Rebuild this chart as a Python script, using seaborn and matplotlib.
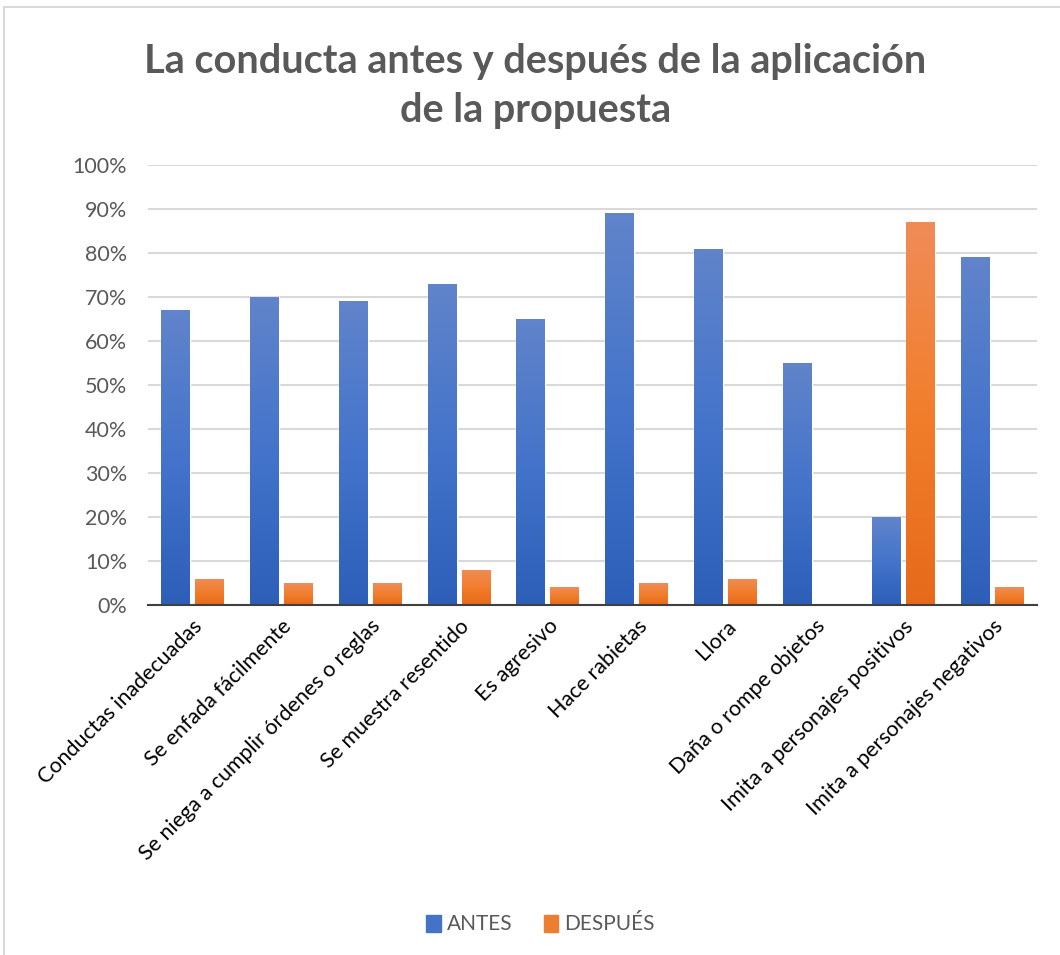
import numpy as np
import pandas as pd
import matplotlib
matplotlib.use("Agg")
import matplotlib.pyplot as plt
import seaborn as sns
from matplotlib.colors import LinearSegmentedColormap
from matplotlib.patches import Rectangle
from matplotlib.ticker import PercentFormatter


categories = [
    "Conductas inadecuadas", "Se enfada fácilmente",
    "Se niega a cumplir órdenes o reglas", "Se muestra resentido",
    "Es agresivo", "Hace rabietas", "Llora", "Daña o rompe objetos",
    "Imita a personajes positivos", "Imita a personajes negativos",
]
antes = [67, 70, 69, 73, 65, 89, 81, 55, 20, 79]
despues = [6, 5, 5, 8, 4, 5, 6, 0, 87, 4]
series = ["ANTES", "DESPUÉS"]

df = pd.DataFrame({
    "categoria": categories * 2,
    "valor": antes + despues,
    "serie": [series[0]] * len(categories) + [series[1]] * len(categories),
})

sns.set_style("white")
plt.rcParams['font.family'] = ['Lato', 'DejaVu Sans']

fig = plt.figure(figsize=(10.6, 9.55), dpi=100)
ax = fig.add_axes([0.1396, 0.3665, 0.8384, 0.4607])

colors = {"ANTES": "#4472C4", "DESPUÉS": "#ED7D31"}
sns.barplot(data=df, x="categoria", y="valor", hue="serie", order=categories,
            hue_order=series, palette=colors, width=0.764, gap=0.147,
            ax=ax, legend=False, zorder=3)

# gradient fill on the bars
grads = {
    "ANTES": LinearSegmentedColormap.from_list("b", ["#2D5FB9", "#4474CB", "#6184CA"]),
    "DESPUÉS": LinearSegmentedColormap.from_list("o", ["#E66A1A", "#F17E2C", "#F08C58"]),
}
grad = np.linspace(0, 1, 256).reshape(-1, 1)
for cont, s in zip(ax.containers, series):
    for bar in cont:
        h = bar.get_height()
        if h <= 0:
            continue
        x0 = bar.get_x()
        w = bar.get_width()
        im = ax.imshow(grad, cmap=grads[s], origin="lower", aspect="auto",
                       extent=(x0, x0 + w, 0, h), zorder=3.5)
        im.set_clip_path(bar)

ax.set_xlim(-0.5, len(categories) - 0.5)
ax.set_ylim(0, 100)
ax.set_yticks(range(0, 101, 10))
ax.yaxis.set_major_formatter(PercentFormatter(decimals=0))
ax.grid(axis="y", color="#D9D9D9", linewidth=1.5, zorder=0)
ax.set_axisbelow(True)
for side in ["left", "right", "top"]:
    ax.spines[side].set_visible(False)
ax.spines["bottom"].set_color("#404040")
ax.spines["bottom"].set_linewidth(1.5)
ax.spines["bottom"].set_zorder(5)
ax.tick_params(axis="y", length=0, labelsize=15.5, labelcolor="#595959", pad=15)
ax.tick_params(axis="x", length=0, labelsize=15.5, labelcolor="#000000", pad=8)
plt.setp(ax.get_xticklabels(), rotation=45, ha="right", rotation_mode="anchor")
ax.set_xlabel("")
ax.set_ylabel("")

fig.text(0.505, 0.91, "La conducta antes y después de la aplicación\nde la propuesta",
         ha="center", va="center", fontsize=28.5, fontweight="bold",
         color="#595959", linespacing=1.4)

handles = [Rectangle((0, 0), 1, 1, color=colors[s]) for s in series]
fig.legend(handles, series, loc="center", bbox_to_anchor=(0.51, 0.032), ncol=2,
           frameon=False, fontsize=15, labelcolor="#595959", handlelength=0.7,
           handleheight=0.9, handletextpad=0.3, columnspacing=1.5)

fig.patches.append(Rectangle((0.004, -0.01), 1.01, 1.003, transform=fig.transFigure,
                             fill=False, edgecolor="#D9D9D9", linewidth=1.5))

fig.savefig("out.png", dpi=100, facecolor="white")
